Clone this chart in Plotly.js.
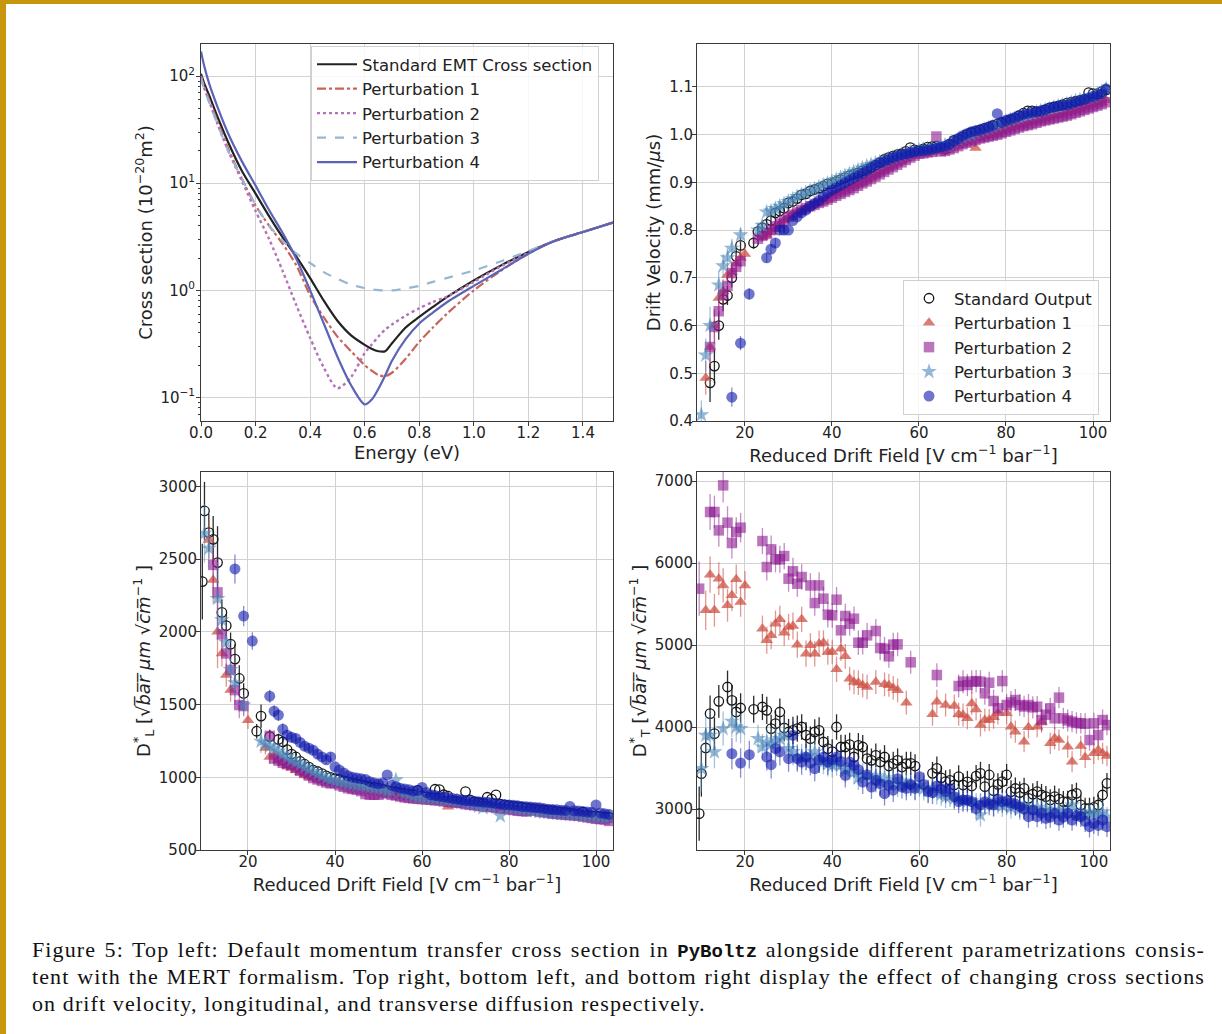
<!DOCTYPE html>
<html>
<head>
<meta charset="utf-8">
<script src="https://cdn.plot.ly/plotly-3.0.1.min.js"></script>
<style>
  html, body { margin:0; padding:0; background:#fff; }
  #wrap { position:relative; width:1222px; height:1034px; overflow:hidden; background:#fff; }
  #plot { position:absolute; left:0; top:0; width:1222px; height:1034px; }
  #btop { position:absolute; left:0; top:0; width:1222px; height:4px; background:#c8960c; }
  #bleft { position:absolute; left:0; top:0; width:6px; height:1034px; background:#c8960c; }
  #cap { position:absolute; left:32px; top:936px; width:1173px; font-family:'Liberation Serif','DejaVu Serif',serif; font-size:22px; letter-spacing:1.1px; color:#111; }
  #cap div { height:27px; line-height:27px; overflow:visible; }
  #cap .j { text-align:justify; text-align-last:justify; white-space:nowrap; }
  #cap .m { font-family:'Liberation Mono','DejaVu Sans Mono',monospace; font-weight:bold; font-size:19px; letter-spacing:0; line-height:0; }
</style>
</head>
<body>
<div id="wrap">
  <div id="plot"></div>
  <div id="btop"></div>
  <div id="bleft"></div>
  <div id="cap">
    <div class="j">Figure 5: Top left: Default momentum transfer cross section in <span class="m">PyBoltz</span> alongside different parametrizations consis-</div>
    <div class="j">tent with the MERT formalism. Top right, bottom left, and bottom right display the effect of changing cross sections</div>
    <div>on drift velocity, longitudinal, and transverse diffusion respectively.</div>
  </div>
</div>
<script>
// ---------- Top left: cross sections ----------
const ENERGY = [0,0.01,0.03,0.06,0.1,0.15,0.2,0.25,0.3,0.35,0.4,0.45,0.5,0.55,0.6,0.625,0.65,0.675,0.7,0.75,0.8,0.85,0.9,1.0,1.1,1.2,1.3,1.4,1.51];
const XS_STD = [105,88,66,42,24,13,8.0,4.9,3.1,2.05,1.3,0.8,0.52,0.38,0.31,0.285,0.27,0.27,0.32,0.45,0.565,0.7,0.86,1.24,1.71,2.28,2.92,3.5,4.3];
const XS_P1  = [100,82,60,38,21,11,6.2,4.0,2.7,1.7,0.9,0.56,0.37,0.27,0.2,0.178,0.162,0.158,0.17,0.23,0.33,0.45,0.6,1.0,1.53,2.2,2.92,3.5,4.3];
const XS_P2  = [100,80,58,36,20,10.5,5.5,3.0,1.5,0.72,0.36,0.19,0.122,0.155,0.26,0.31,0.37,0.43,0.48,0.58,0.68,0.78,0.87,1.2,1.68,2.25,2.92,3.5,4.3];
const XS_P3  = [95,78,57,36,20,11,6.3,4.0,2.9,2.2,1.8,1.48,1.28,1.13,1.05,1.02,1.005,1.0,1.0,1.04,1.1,1.2,1.3,1.53,1.87,2.33,2.92,3.5,4.3];
const XS_P4  = [170,130,85,52,29,16,9.5,5.6,3.4,1.95,1.0,0.49,0.24,0.13,0.086,0.095,0.12,0.16,0.22,0.35,0.49,0.62,0.77,1.1,1.55,2.2,2.92,3.5,4.3];
const CURVE_NAMES = ['Standard EMT Cross section','Perturbation 1','Perturbation 2','Perturbation 3','Perturbation 4'];
const XS_TICKVALS = [0.1,1,10,100];
const XS_TICKTEXT = ['10<sup>−1</sup>','10<sup>0</sup>','10<sup>1</sup>','10<sup>2</sup>'];

// ---------- shared reduced drift field grid ----------
const FIELD = [9.5,10,11,12,13,14,15,16,17,18,19,
  20,21,22,23,24,25,26,27,28,29,
  30,31,32,33,34,35,36,37,38,39,
  40,41,42,43,44,45,46,47,48,49,
  50,51,52,53,54,55,56,57,58,59,
  60,61,62,63,64,65,66,67,68,69,
  70,71,72,73,74,75,76,77,78,79,
  80,81,82,83,84,85,86,87,88,89,
  90,91,92,93,94,95,96,97,98,99,
  100,101,102,103];
const SERIES_NAMES = ['Standard Output','Perturbation 1','Perturbation 2','Perturbation 3','Perturbation 4'];

// ---------- Top right: drift velocity ----------
const VD_STD = [null,null,null,0.48,0.515,0.60,0.655,0.663,0.70,0.745,0.768,
  null,null,0.773,0.797,0.805,0.812,0.82,0.836,0.84,0.846,
  0.857,0.86,0.866,0.874,0.876,0.882,0.885,0.888,0.892,0.897,
  0.898,0.902,0.906,0.91,0.914,0.917,0.92,0.924,0.928,0.932,
  0.936,0.942,0.948,0.952,0.955,0.958,0.96,0.965,0.973,0.968,
  0.966,0.97,0.974,0.975,0.976,0.972,0.97,0.98,0.988,0.99,
  0.995,1.0,1.004,1.007,1.01,1.013,1.016,1.019,1.022,1.025,
  1.028,1.031,1.034,1.04,1.045,1.05,1.05,1.048,1.048,1.052,
  1.056,1.058,1.06,1.063,1.066,1.068,1.07,1.072,1.074,1.088,
  1.086,1.086,1.09,1.094];
const VD_P1 = [null,null,0.49,0.555,0.60,0.658,0.672,0.706,0.712,0.73,0.742,
  0.75,null,null,null,0.785,0.79,0.796,0.802,0.812,0.82,
  0.826,0.834,0.838,0.842,0.846,0.85,0.855,0.857,0.861,0.865,
  0.872,0.876,0.88,0.884,0.888,0.892,0.896,0.9,0.905,0.91,
  0.915,0.92,0.925,0.93,0.935,0.94,0.945,0.95,0.955,0.958,
  0.96,0.961,0.962,0.963,0.965,0.966,0.968,0.972,0.975,0.978,
  0.982,0.985,0.988,0.972,0.992,0.996,0.998,1.0,1.002,1.006,
  1.01,1.013,1.016,1.018,1.02,1.023,1.026,1.028,1.03,1.033,
  1.036,1.038,1.04,1.042,1.045,1.048,1.05,1.053,1.056,1.059,
  1.062,1.065,1.068,1.072];
const VD_P2 = [null,null,null,0.555,0.597,0.63,0.665,0.683,0.71,0.723,0.735,
  null,null,null,0.782,0.788,0.792,0.80,0.808,0.814,0.82,
  0.828,0.832,0.837,0.842,0.846,0.85,0.853,0.857,0.86,0.864,
  0.868,0.872,0.876,0.88,0.884,0.888,0.893,0.898,0.902,0.907,
  0.912,0.917,0.922,0.927,0.932,0.937,0.942,0.947,0.952,0.956,
  0.96,0.961,0.963,0.964,0.996,0.965,0.966,0.969,0.972,0.976,
  0.98,0.983,0.986,0.989,0.992,0.994,0.996,0.998,1.0,1.003,
  1.006,1.009,1.012,1.015,1.018,1.02,1.022,1.025,1.028,1.03,
  1.032,1.034,1.036,1.038,1.04,1.043,1.046,1.049,1.052,1.055,
  1.058,1.061,1.064,1.068];
const VD_P3 = [null,0.413,0.538,0.60,null,0.685,0.725,0.742,0.762,null,0.79,
  null,null,null,0.80,0.81,0.838,0.84,0.845,0.85,0.855,
  0.86,0.865,0.87,0.874,0.878,0.882,0.886,0.89,0.894,0.898,
  0.902,0.906,0.91,0.914,0.918,0.922,0.926,0.93,0.934,0.937,
  0.94,0.943,0.946,0.949,0.952,0.955,0.958,0.961,0.964,0.966,
  0.968,0.969,0.97,0.972,0.974,0.976,0.978,0.98,0.984,0.99,
  0.994,0.997,1.0,1.004,1.008,1.011,1.014,1.017,1.02,1.024,
  1.028,1.031,1.034,1.037,1.04,1.042,1.044,1.047,1.05,1.052,
  1.054,1.057,1.06,1.062,1.064,1.067,1.07,1.073,1.076,1.078,
  1.08,1.085,1.09,1.096];
const VD_P4 = [null,null,null,null,null,null,null,null,0.45,null,0.563,
  null,0.666,null,null,null,0.742,0.76,0.773,0.80,0.80,
  0.80,0.82,0.828,0.836,0.842,0.85,0.856,0.862,0.87,0.878,
  0.884,0.889,0.894,0.899,0.904,0.909,0.914,0.919,0.924,0.93,
  0.936,0.94,0.944,0.948,0.952,0.955,0.958,0.96,0.962,0.964,
  0.966,0.967,0.968,0.97,0.972,0.974,0.976,0.98,0.986,0.992,
  0.998,1.002,1.006,1.008,1.01,1.013,1.016,1.02,1.044,1.026,
  1.03,1.033,1.036,1.039,1.042,1.044,1.046,1.048,1.05,1.053,
  1.056,1.058,1.06,1.061,1.062,1.065,1.068,1.071,1.074,1.077,
  1.08,1.083,1.086,1.096];
const VD_ERR = [0.03,0.03,0.035,0.04,0.035,0.03,0.025,0.02,0.02,0.018,0.015,
  0.015,0.012,0.012,0.012,0.01,0.01,0.01,0.01,0.01,0.01];

// ---------- Bottom left: longitudinal diffusion ----------
const DL_STD = [2346,2832,2683,2637,2477,2134,2043,1916,1813,1680,1577,
  null,null,1317,1421,null,1280,null,1260,1243,1190,
  1160,1140,1110,1090,1070,1050,1040,1025,1010,1000,
  990,985,975,968,960,955,950,942,935,930,
  925,918,910,905,900,895,890,885,880,910,
  870,865,860,918,915,880,870,840,835,830,
  902,845,830,825,820,863,850,879,815,810,
  805,800,798,795,790,785,780,778,775,772,
  770,765,760,758,755,750,745,760,740,735,
  735,730,728,725];
const DL_P1 = [null,null,2633,2357,2001,1852,1703,1600,null,null,null,
  1393,null,null,null,1202,1140,1150,1120,1100,1080,
  1065,1050,1035,1020,1005,1000,990,980,970,962,
  955,950,945,938,930,925,920,912,905,900,
  895,892,888,884,880,875,870,865,860,858,
  855,850,845,840,835,830,798,830,828,825,
  820,815,810,805,790,800,798,795,790,788,
  785,780,775,772,770,765,760,758,755,750,
  745,742,740,738,735,732,730,728,725,722,
  720,715,710,705];
const DL_P2 = [null,null,null,2461,2272,1983,1852,1738,1600,1497,1490,
  null,null,null,null,null,1285,1129,1115,1100,1090,
  1083,1065,1045,1030,1012,995,985,975,965,958,
  960,945,935,925,920,915,905,885,880,880,
  880,892,890,880,875,868,862,858,855,852,
  850,848,845,842,840,835,832,828,825,822,
  815,812,808,805,800,798,795,790,785,782,
  780,775,770,768,765,770,785,762,760,755,
  750,748,745,742,740,738,735,730,725,720,
  715,712,710,700];
const DL_P3 = [null,2678,2575,null,2230,2083,1928,1740,1650,null,1497,
  null,null,null,1248,1235,1215,1200,1180,1160,1140,
  1120,1105,1090,1070,1055,1040,1025,1010,995,985,
  975,968,962,955,950,945,940,935,930,925,
  920,915,905,900,982,895,890,880,870,865,
  860,858,855,852,850,845,840,838,835,832,
  825,820,815,800,790,805,802,800,735,795,
  790,785,780,778,775,772,770,765,760,758,
  755,752,750,748,745,742,740,735,732,730,
  728,725,722,720];
const DL_P4 = [null,null,null,null,null,null,null,null,2433,null,2109,
  null,1937,null,null,null,1558,1455,1428,1331,1290,
  1275,1267,1240,1214,1200,1186,1160,1140,1120,1140,
  1072,1050,1030,1010,1000,995,990,985,970,960,
  955,960,1016,945,935,925,920,915,905,910,
  930,895,880,875,870,865,860,855,850,845,
  840,838,835,832,830,828,825,820,815,812,
  810,808,805,800,798,795,792,790,785,780,
  778,776,774,772,800,770,768,765,762,760,
  810,755,750,745];
const DL_ERR = [260,200,130,160,250,90,80,80,100,90,70,
  60,60,50,80,45,45,40,40,40,35,
  35,35,30,30,30,30,30,30,30,30];

// ---------- Bottom right: transverse diffusion ----------
const DT_STD = [2943,3431,3744,4163,3919,4313,null,4488,4325,4183,4232,
  null,null,4216,null,4244,4203,3980,4041,4183,3988,
  3939,3959,3980,4000,3900,3858,3939,3959,3817,3736,
  3700,4000,3756,3756,3785,3634,3776,3756,3614,3593,
  3654,3573,3634,3524,3553,3593,3512,3553,3557,3524,
  null,null,null,3435,3496,3380,3333,3350,3293,3394,
  3293,3330,3280,3402,3435,3272,3415,3224,3300,3333,
  3415,3211,3250,3200,3252,3130,3180,3211,3171,3150,
  3110,3150,3120,3089,3089,3171,3191,3050,3008,3008,
  3020,3049,3171,3313];
const DT_P1 = [null,null,5423,5858,5423,5809,5727,5484,5606,5801,5524,
  5727,null,null,null,5199,5057,5118,5260,5313,5151,
  5220,5232,5004,5313,4894,4996,4894,5016,5028,4915,
  4915,4703,4955,4862,4589,4549,4541,4508,4488,null,
  4549,null,4520,4508,4476,4447,null,4297,null,null,
  null,null,null,4155,4308,null,4268,null,4256,4155,
  4146,4106,4288,4215,4024,4085,4085,4118,4167,null,
  4167,4004,3943,null,3821,3996,null,4004,4065,null,
  3801,3862,3841,null,3760,3577,null,3768,3630,null,
  3679,3720,3679,3646];
const DT_P2 = [5687,null,null,6622,6622,6398,6947,6492,6244,6378,6431,
  null,null,null,null,6268,5951,6167,6045,6045,6085,
  5809,5899,5748,5829,null,5727,5512,5727,5565,5370,
  5362,5553,5179,5354,5260,5321,5028,5028,5118,null,
  5171,4963,4955,4862,5004,5008,null,null,4789,null,
  null,null,null,null,4634,null,null,null,null,4500,
  4553,4512,4553,4560,4553,4411,4540,4317,4228,4560,
  4268,4300,4329,4268,4250,4268,4240,4248,4085,4150,
  4228,4106,4358,4106,4080,4065,4050,4045,4040,3841,
  4045,3902,4085,4024];
const DT_P3 = [null,3492,3899,3899,3696,null,3980,null,4069,4000,3980,
  null,null,null,3858,3756,3817,3790,3840,3858,3899,
  3736,3700,3634,3640,3634,3654,3696,3600,3573,3550,
  3533,3560,3533,3470,3500,3451,3380,3420,3411,3360,
  3400,3330,3380,3310,3360,3290,3340,3300,3313,3260,
  3290,3250,3220,3260,3200,3180,3150,3160,3130,3140,
  3110,3090,3100,3060,2927,3070,3100,3050,3080,3040,
  3060,3020,3050,3000,3040,3010,2990,3020,2970,3000,
  2980,2950,2990,2940,2970,3049,2930,2960,2920,2950,
  2947,2930,2960,2900];
const DT_P4 = [null,null,null,null,null,null,null,null,3675,null,3561,
  null,3663,null,null,null,3634,3541,3736,3696,null,
  3614,3899,3614,3573,3634,3560,3492,3600,3634,3573,
  3600,3634,3580,3411,3573,3533,3480,3329,3419,3268,
  3350,3309,3187,3289,3230,3370,3268,3252,3300,3252,
  3394,3300,3211,3200,3280,3250,3211,3250,3150,3089,
  3110,3110,3089,3008,3050,3089,3060,3049,3120,3089,
  3100,3077,3060,3028,3000,2906,2988,2906,2950,2886,
  2900,2947,2866,2900,2947,2866,2920,2906,2850,2784,
  2825,2800,2866,2784];
const DT_ERR = [330,280,240,220,200,200,210,200,190,180,180,
  175,170,165,170,160,165,170,160,165,160,
  160,165,160,155,160,150,155,160,150,155,
  150,155,150,150,145,150,150,145,150,145,
  145,150,145,140,145,145,140,145,140,145,
  140,145,140,140,145,140,140,135,140,140,
  140,135,140,135,140,140,135,140,135,135,
  135,140,135,135,130,135,135,130,135,130,
  130,135,130,130,135,130,130,125,130,130,
  130,125,130,125];

// ---------- styles ----------
const FONT = 'DejaVu Sans, Verdana, sans-serif';
const CURVE_STYLES = [
  {color:'#222222', dash:'solid', width:2.2},
  {color:'#c8645e', dash:'dashdot', width:2.2},
  {color:'#b373b8', dash:'dot', width:2.4},
  {color:'#97b6d2', dash:'dash', width:2.2},
  {color:'#5b63b7', dash:'solid', width:2.2}
];
const MARKER_STYLES = [
  {symbol:'circle-open', size:9.5, color:'#161616', line:{width:1.3, color:'#161616'}, err:'rgba(20,20,20,0.9)'},
  {symbol:'triangle-up', size:11, color:'rgba(205,82,70,0.75)', err:'rgba(205,82,70,0.6)'},
  {symbol:'square', size:10.5, color:'rgba(140,25,145,0.6)', err:'rgba(140,25,145,0.5)'},
  {symbol:'star', size:12, color:'rgba(75,135,185,0.6)', err:'rgba(75,135,185,0.5)'},
  {symbol:'circle', size:11, color:'rgba(15,25,170,0.6)', err:'rgba(15,25,170,0.5)'}
];

const traces = [];
[XS_STD, XS_P1, XS_P2, XS_P3, XS_P4].forEach((ys, i) => {
  const s = CURVE_STYLES[i];
  traces.push({
    type:'scatter', mode:'lines', x:ENERGY, y:ys, name:CURVE_NAMES[i],
    xaxis:'x', yaxis:'y', legend:'legend',
    line:{color:s.color, dash:s.dash, width:s.width, shape:'spline', smoothing:0.8}
  });
});

function addSeries(sets, err, xa, ya, withLegend) {
  sets.forEach((ys, i) => {
    const s = MARKER_STYLES[i];
    const mk = {symbol:s.symbol, size:s.size, color:s.color};
    if (s.line) mk.line = s.line; else mk.line = {width:0};
    traces.push({
      type:'scatter', mode:'markers', x:FIELD, y:ys, name:SERIES_NAMES[i],
      xaxis:xa, yaxis:ya, marker:mk,
      showlegend:withLegend, legend:'legend2',
      error_y:{type:'data', array:err, visible:true, color:s.err, thickness:1.3, width:0}
    });
  });
}
addSeries([VD_STD, VD_P1, VD_P2, VD_P3, VD_P4], VD_ERR, 'x2', 'y2', true);
addSeries([DL_STD, DL_P1, DL_P2, DL_P3, DL_P4], DL_ERR, 'x3', 'y3', false);
addSeries([DT_STD, DT_P1, DT_P2, DT_P3, DT_P4], DT_ERR, 'x4', 'y4', false);

const W = 1222, H = 1034;
const LEFT_DOM = [201/W, 613/W], RIGHT_DOM = [697/W, 1110/W];
const TOP_DOM = [1-421/H, 1-44/H], BOT_DOM = [1-850/H, 1-472/H];

function ax(extra) {
  return Object.assign({
    showline:true, mirror:true, linecolor:'#3a3a3a', linewidth:1,
    ticks:'outside', ticklen:4, tickwidth:1, tickcolor:'#3a3a3a',
    ticklabelstandoff:-4,
    showgrid:true, gridcolor:'#d2d2d2', gridwidth:1, zeroline:false,
    tickfont:{family:FONT, size:15, color:'#222'}
  }, extra);
}
const titleFont = {family:FONT, size:18, color:'#222'};

const layout = {
  width:W, height:H, margin:{l:0, r:0, t:0, b:0},
  paper_bgcolor:'#ffffff', plot_bgcolor:'#ffffff',
  font:{family:FONT, color:'#222'},
  xaxis: ax({domain:LEFT_DOM, anchor:'y', range:[0,1.51], dtick:0.2, tick0:0, tickformat:'.1f',
    ticklabelstandoff:-6, title:{text:'Energy (eV)', font:titleFont, standoff:0}}),
  yaxis: ax({domain:TOP_DOM, anchor:'x', type:'log', range:[-1.22,2.30],
    tickvals:XS_TICKVALS, ticktext:XS_TICKTEXT, ticklabelstandoff:-2,
    minor:{ticks:'outside', ticklen:2.5, tickcolor:'#3a3a3a', showgrid:false, dtick:'D1'},
    title:{text:'Cross section (10<sup>−20</sup>m<sup>2</sup>)', font:titleFont, standoff:3}}),
  xaxis2: ax({domain:RIGHT_DOM, anchor:'y2', range:[9,103.9], dtick:20, tick0:0,
    ticklabelstandoff:-6, title:{text:'Reduced Drift Field [V cm<sup>−1</sup> bar<sup>−1</sup>]', font:titleFont, standoff:0}}),
  yaxis2: ax({domain:TOP_DOM, anchor:'x2', range:[0.4,1.19], dtick:0.1, tick0:0, tickformat:'.1f',
    title:{text:'Drift Velocity (mm/<i>μ</i>s)', font:titleFont, standoff:3}}),
  xaxis3: ax({domain:LEFT_DOM, anchor:'y3', range:[9.2,103.9], dtick:20, tick0:0,
    ticklabelstandoff:-6, title:{text:'Reduced Drift Field [V cm<sup>−1</sup> bar<sup>−1</sup>]', font:titleFont, standoff:0}}),
  yaxis3: ax({domain:BOT_DOM, anchor:'x3', range:[500,3100], dtick:500, tick0:0,
    title:{text:'D<sup>*</sup><sub>L</sub> [√<i>b̅a̅r̅</i> <i>μm</i> √<i>c̅m̅</i><sup>−1</sup> ]', font:titleFont, standoff:3}}),
  xaxis4: ax({domain:RIGHT_DOM, anchor:'y4', range:[9,103.7], dtick:20, tick0:0,
    ticklabelstandoff:-6, title:{text:'Reduced Drift Field [V cm<sup>−1</sup> bar<sup>−1</sup>]', font:titleFont, standoff:0}}),
  yaxis4: ax({domain:BOT_DOM, anchor:'x4', range:[2500,7110], dtick:1000, tick0:0,
    title:{text:'D<sup>*</sup><sub>T</sub> [√<i>b̅a̅r̅</i> <i>μm</i> √<i>c̅m̅</i><sup>−1</sup> ]', font:titleFont, standoff:3}}),
  legend:{x:311/W, y:1-46/H, xanchor:'left', yanchor:'top',
    bgcolor:'rgba(255,255,255,0.85)', bordercolor:'#d0d0d0', borderwidth:1,
    font:{family:FONT, size:16.5, color:'#222'}, itemwidth:40},
  legend2:{x:903/W, y:1-280/H, xanchor:'left', yanchor:'top',
    bgcolor:'rgba(255,255,255,0.85)', bordercolor:'#d0d0d0', borderwidth:1,
    font:{family:FONT, size:16.5, color:'#222'}, itemwidth:40},
  showlegend:true
};

Plotly.newPlot('plot', traces, layout, {displayModeBar:false, staticPlot:true});
</script>
</body>
</html>
